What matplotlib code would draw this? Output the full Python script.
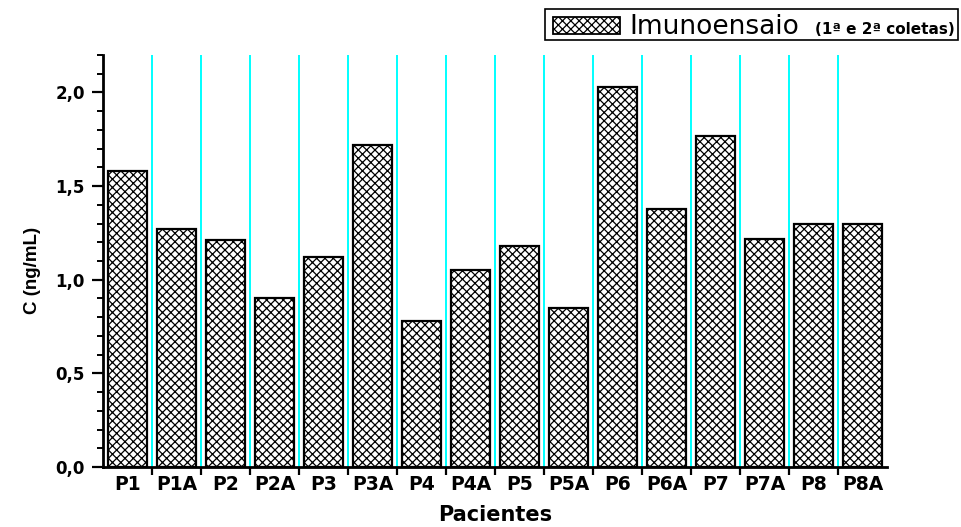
import numpy as np
import matplotlib
matplotlib.use('Agg')
import matplotlib.pyplot as plt
from matplotlib.ticker import MultipleLocator
from matplotlib.patches import Rectangle


pacientes = ['P1', 'P1A', 'P2', 'P2A', 'P3', 'P3A', 'P4', 'P4A',
             'P5', 'P5A', 'P6', 'P6A', 'P7', 'P7A', 'P8', 'P8A']
concentracao = [1.58, 1.27, 1.21, 0.90, 1.12, 1.72, 0.78, 1.05,
                1.18, 0.85, 2.03, 1.38, 1.77, 1.22, 1.30, 1.30]
y_ticks = [0.0, 0.5, 1.0, 1.5, 2.0]
y_labels = ['0,0', '0,5', '1,0', '1,5', '2,0']

plt.rcParams['hatch.linewidth'] = 0.9

fig = plt.figure(figsize=(9.61, 5.27), dpi=100)
ax = fig.add_axes([103 / 961, 1 - 467 / 527, 784 / 961, 412 / 527])

x = np.arange(len(pacientes))
bars = ax.bar(x, concentracao, width=0.8, color='white', edgecolor='black',
              linewidth=1.6, hatch='xxxx', zorder=3)

ax.set_xlim(-0.5, len(pacientes) - 0.5)
ax.set_ylim(0, 2.2)

# labels centred under the bars, tick marks between the bars
ax.set_xticks(x)
ax.set_xticklabels(pacientes, fontfamily='DejaVu Sans', fontweight='bold', fontsize=13.5)
ax.set_xticks(x[:-1] + 0.5, minor=True)
ax.tick_params(axis='x', which='major', length=0, pad=6)
ax.tick_params(axis='x', which='minor', length=6, width=1.6, direction='out')
ax.grid(axis='x', which='minor', color='#00FFFF', linewidth=1.4, zorder=1)

ax.set_yticks(y_ticks)
ax.set_yticklabels(y_labels, fontfamily='DejaVu Sans', fontweight='bold', fontsize=12)
ax.yaxis.set_minor_locator(MultipleLocator(0.1))
ax.tick_params(axis='y', which='major', length=8, width=1.6, direction='out', pad=5)
ax.tick_params(axis='y', which='minor', length=4.5, width=1.4, direction='out')

for side in ['top', 'right']:
    ax.spines[side].set_visible(False)
for side in ['left', 'bottom']:
    ax.spines[side].set_linewidth(2)

ax.set_xlabel('Pacientes', fontfamily='DejaVu Sans', fontweight='bold', fontsize=15)
ax.xaxis.set_label_coords(0.5, -0.092)
ax.set_ylabel('C (ng/mL)', fontfamily='Liberation Sans', fontweight='bold', fontsize=13.5)
ax.yaxis.set_label_coords(-0.079, 0.476)

# legend box drawn by hand so the label can mix two sizes
W, H = 961, 527
fig.add_artist(Rectangle((545 / W, 1 - 40 / H), 413 / W, 31 / H, transform=fig.transFigure,
                         facecolor='white', edgecolor='black', linewidth=1.2))
fig.add_artist(Rectangle((553 / W, 1 - 34 / H), 67 / W, 17 / H, transform=fig.transFigure,
                         facecolor='white', edgecolor='black', linewidth=1.3, hatch='xxxx'))
fig.text(629 / W, 1 - 34 / H, 'Imunoensaio', fontfamily='DejaVu Sans', fontsize=19,
         va='baseline', ha='left')
fig.text(955 / W, 1 - 34 / H, '(1ª e 2ª coletas)', fontfamily='DejaVu Sans',
         fontweight='bold', fontsize=11, va='baseline', ha='right')

fig.savefig('out.png', dpi=100)
